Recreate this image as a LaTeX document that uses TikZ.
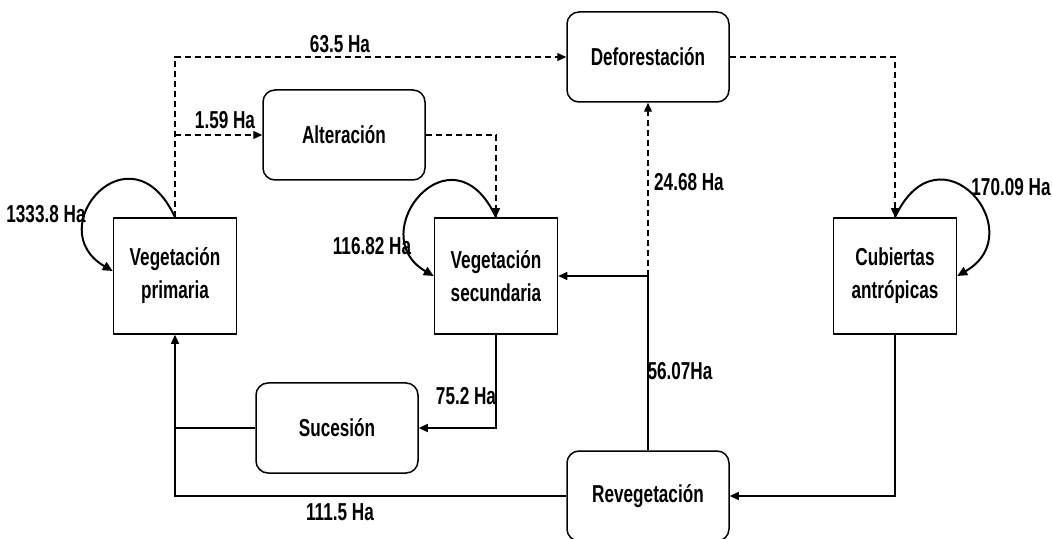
\documentclass[tikz,border=0pt]{standalone}
\usepackage{fontspec}
\setmainfont{Liberation Sans}[FakeStretch=0.7]
\usetikzlibrary{arrows.meta}
\tikzstyle{cover} = [
    rectangle,
    minimum width=123bp,
    minimum height=116bp,
    align=center,
    line width=1.5bp,
    draw=black
]
\tikzstyle{change} = [
    rectangle,
    rounded corners=12bp,
    minimum width=162bp,
    minimum height=90bp,
    align=center,
    line width=1.5bp,
    draw=black
]
\tikzstyle{area} = [inner sep=0pt]
\tikzstyle{arrow} = [line width=1.4bp,-{Triangle[length=9bp,width=8bp]}]
\tikzstyle{dasharrow} = [arrow, line width=1.2bp, dash pattern=on 6bp off 4bp]
\tikzstyle{loop} = [line width=2bp,-{Triangle[length=10bp,width=9bp]}]
\tikzstyle{flow} = [line width=1.4bp]

\begin{document}
\begin{tikzpicture}[x=1bp,y=1bp,
    every node/.style={font=\bfseries\fontsize{24.5bp}{33bp}\selectfont}]
\useasboundingbox (0,0) rectangle (1052,-539);

\node (prim) [cover] at (175,-276) {Vegetación\\primaria};
\node (sec) [cover] at (496,-276) {Vegetación\\secundaria};
\node (cub) [cover] at (895,-276) {Cubiertas\\antrópicas};

\node (defor) [change] at (648,-57) {Deforestación};
\node (alter) [change] at (344,-135) {Alteración};
\node (suc) [change] at (337,-428) {Sucesión};
\node (reveg) [change] at (648,-496) {Revegetación};

\node (l635) [area] at (340,-44) {63.5 Ha};
\node (l159) [area] at (225,-120) {1.59 Ha};
\node (l1333) [area] at (46,-214) {1333.8 Ha};
\node (l11682) [area] at (372,-246) {116.82 Ha};
\node (l17009) [area] at (1011,-187) {170.09 Ha};
\node (l2468) [area] at (689,-182) {24.68 Ha};
\node (l5607) [area] at (680,-371) {56.07Ha};
\node (l752) [area] at (466,-396) {75.2 Ha};
\node (l1115) [area] at (340,-512) {111.5 Ha};

% towards deforestation and alteration
\draw [dasharrow] (prim.north) |- (defor.west);
\draw [dasharrow] (prim.north |- alter.west) -- (alter.west);
\draw [dasharrow] (alter.east) -| (sec.north);
\draw [dasharrow] (defor.east) -| (cub.north);
\draw [dasharrow] (reveg.north |- sec.east) -- (defor.south);

% persistence loops
\draw [loop] (prim.north) to[out=115,in=150,out distance=105bp,in distance=85bp] ([yshift=5bp]prim.west);
\draw [loop] (sec.north) to[out=115,in=150,out distance=105bp,in distance=83bp] (sec.west);
\draw [loop] (cub.north) to[out=65,in=30,out distance=105bp,in distance=88bp] (cub.east);

% recovery
\draw [arrow] (reveg.north) |- (sec.east);
\draw [arrow] (cub.south) |- (reveg.east);
\draw [arrow] (sec.south) |- (suc.east);
\draw [flow] (suc.west) -- (prim.south |- suc.west);
\draw [arrow] (reveg.west) -| (prim.south);

\end{tikzpicture}
\end{document}
